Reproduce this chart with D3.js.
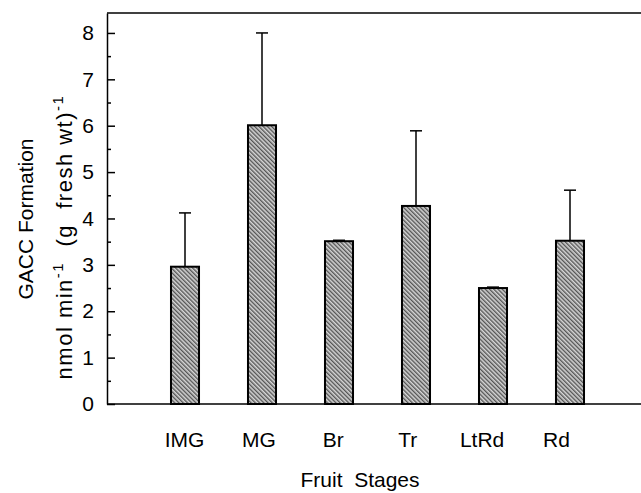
<!DOCTYPE html>
<html>
<head>
<meta charset="utf-8">
<script src="https://cdn.jsdelivr.net/npm/d3@7"></script>
<style>
  body { margin: 0; background: #fff; }
  svg { display: block; font-family: "Liberation Sans", Arial, Helvetica, sans-serif; }
  .axis path, .axis line { stroke: #000; stroke-width: 1.5; }
  .axis text { font-size: 21px; fill: #000; }
</style>
</head>
<body>
<div id="chart"></div>
<script>
// data
var stages = ['IMG', 'MG', 'Br', 'Tr', 'LtRd', 'Rd'];
var means = [2.96, 6.01, 3.51, 4.27, 2.50, 3.52];
var errTops = [4.12, 8.00, 3.53, 5.89, 2.52, 4.61];
var yTicks = [0, 1, 2, 3, 4, 5, 6, 7, 8];
var yMinorTicks = [0.5, 1.5, 2.5, 3.5, 4.5, 5.5, 6.5, 7.5];

var width = 641, height = 493;
var plotLeft = 107, plotRight = 641, plotTop = 13, plotBottom = 404;
var yMax = 8.43;

var data = stages.map((s, i) => ({ stage: s, mean: means[i], top: errTops[i] }));

var svg = d3.select('#chart')
  .append('svg')
  .attr('width', width)
  .attr('height', height);

var yScale = d3.scaleLinear()
  .domain([0, yMax])
  .range([plotBottom, plotTop]);

// bars sit on a band scale, labels drift a bit to the left so they get their own
var xScale = d3.scaleBand()
  .domain(stages)
  .range([146.5, 608.5])
  .paddingInner(0.636)
  .paddingOuter(0.318);

var labelScale = d3.scalePoint()
  .domain(stages)
  .range([184, 556]);

// hatch pattern for the bars (lines run top-left to bottom-right)
var defs = svg.append('defs');
var pat = defs.append('pattern')
  .attr('id', 'hatch')
  .attr('patternUnits', 'userSpaceOnUse')
  .attr('width', 3)
  .attr('height', 3)
  .attr('patternTransform', 'rotate(-45)');
pat.append('rect').attr('width', 3).attr('height', 3).attr('fill', '#d6d6d6');
pat.append('rect').attr('width', 1.4).attr('height', 3).attr('fill', '#555');

// frame lines: top and bottom run out to the right edge
svg.append('line')
  .attr('x1', plotLeft).attr('x2', plotRight)
  .attr('y1', yScale(yMax)).attr('y2', yScale(yMax))
  .attr('stroke', '#000').attr('stroke-width', 1.5);

svg.append('line')
  .attr('x1', plotLeft).attr('x2', plotRight)
  .attr('y1', yScale(0)).attr('y2', yScale(0))
  .attr('stroke', '#000').attr('stroke-width', 1.5);

// y axis, ticks pointing inward
var yAxis = d3.axisLeft(yScale)
  .tickValues(yTicks)
  .tickSizeInner(-8)
  .tickSizeOuter(0)
  .tickPadding(13);

svg.append('g')
  .attr('class', 'y axis')
  .attr('transform', `translate(${plotLeft},0)`)
  .call(yAxis);

svg.append('g')
  .attr('class', 'y axis minor')
  .attr('transform', `translate(${plotLeft},0)`)
  .call(
    d3.axisLeft(yScale)
      .tickValues(yMinorTicks)
      .tickSizeInner(-4)
      .tickSizeOuter(0)
      .tickFormat('')
  )
  .select('.domain').remove();

// bars
svg.append('g')
  .attr('class', 'bars')
  .selectAll('rect')
  .data(data)
  .enter()
  .append('rect')
  .attr('x', d => xScale(d.stage))
  .attr('y', d => yScale(d.mean))
  .attr('width', xScale.bandwidth())
  .attr('height', d => yScale(0) - yScale(d.mean))
  .attr('fill', 'url(#hatch)')
  .attr('stroke', '#000')
  .attr('stroke-width', 2);

// error bars (upper only)
var capW = 12;
var errs = svg.append('g').attr('class', 'errors')
  .selectAll('g')
  .data(data)
  .enter()
  .append('g');

errs.append('line')
  .attr('x1', d => xScale(d.stage) + xScale.bandwidth() / 2)
  .attr('x2', d => xScale(d.stage) + xScale.bandwidth() / 2)
  .attr('y1', d => yScale(d.mean))
  .attr('y2', d => yScale(d.top))
  .attr('stroke', '#000')
  .attr('stroke-width', 1.5);

errs.append('line')
  .attr('x1', d => xScale(d.stage) + xScale.bandwidth() / 2 - capW / 2)
  .attr('x2', d => xScale(d.stage) + xScale.bandwidth() / 2 + capW / 2)
  .attr('y1', d => yScale(d.top))
  .attr('y2', d => yScale(d.top))
  .attr('stroke', '#000')
  .attr('stroke-width', 1.5);

// x category labels
var xAxis = d3.axisBottom(labelScale)
  .tickSize(0)
  .tickPadding(28);

svg.append('g')
  .attr('class', 'x axis')
  .attr('transform', `translate(0,${plotBottom})`)
  .call(xAxis)
  .select('.domain').remove();

// axis titles
svg.append('text')
  .attr('x', 360)
  .attr('y', 487)
  .attr('text-anchor', 'middle')
  .attr('font-size', 21)
  .attr('xml:space', 'preserve')
  .text('Fruit  Stages');

var yTitle = svg.append('text')
  .attr('transform', 'translate(0,220) rotate(-90)')
  .attr('text-anchor', 'middle')
  .attr('font-size', 21);

yTitle.append('tspan')
  .attr('x', 1)
  .attr('y', 33)
  .text('GACC Formation');

var line2 = yTitle.append('tspan')
  .attr('x', -17)
  .attr('y', 72)
  .attr('font-size', 22)
  .attr('letter-spacing', 1.5)
  .attr('xml:space', 'preserve');

line2.append('tspan').text('nmol min');
line2.append('tspan').attr('font-size', 15).attr('dy', -9).text('-1');
line2.append('tspan').attr('dy', 9).attr('xml:space', 'preserve').text('  (g  fresh wt)');
line2.append('tspan').attr('font-size', 15).attr('dy', -9).text('-1');
</script>
</body>
</html>
